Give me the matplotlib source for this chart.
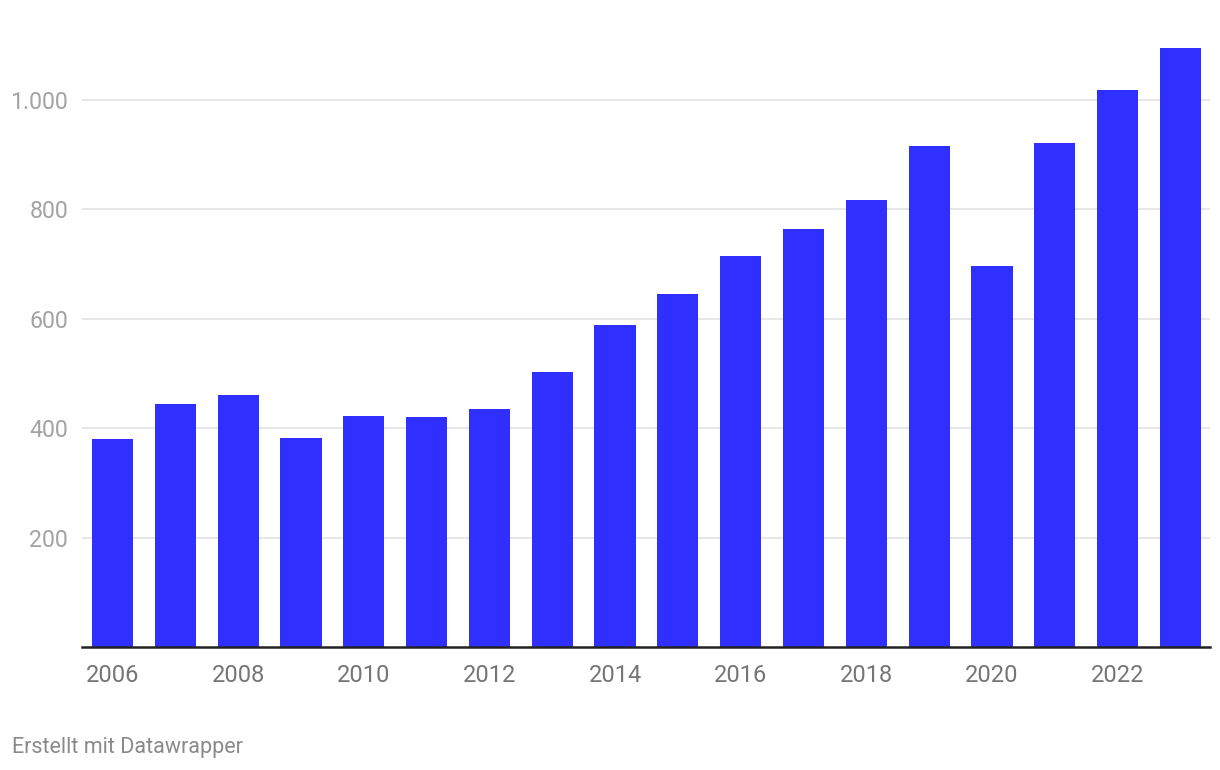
import matplotlib
matplotlib.use("Agg")
import matplotlib.pyplot as plt

years = list(range(2006, 2024))
values = [380, 444, 461, 382, 422, 420, 435, 503, 589, 645, 715, 764, 817, 916, 697, 921, 1018, 1095]
y_ticks = [200, 400, 600, 800, 1000]
y_labels = ["200", "400", "600", "800", "1.000"]
x_ticks = [2006, 2008, 2010, 2012, 2014, 2016, 2018, 2020, 2022]

plt.rcParams['font.family'] = ['Roboto', 'DejaVu Sans']

fig = plt.figure(figsize=(12.2, 7.7), dpi=100)
ax = fig.add_axes([82/1220, 123/770, (1210-82)/1220, (647-45)/770])

for y in y_ticks:
    ax.axhline(y, color="#e3e3e3", linewidth=1.2, zorder=0)

ax.bar(years, values, width=0.655, color="#2f2fff", zorder=2)

ax.set_xlim(2005.515, 2023.47)
ax.set_ylim(0, 1100)

ax.set_yticks(y_ticks)
ax.set_yticklabels(y_labels)
ax.set_xticks(x_ticks)
ax.set_xticklabels([str(x) for x in x_ticks])

ax.tick_params(axis="y", length=0, pad=10, labelsize=16.7, labelcolor="#a3a3a3")
ax.tick_params(axis="x", length=0, pad=12, labelsize=17, labelcolor="#757575")

for s in ["top", "right", "left"]:
    ax.spines[s].set_visible(False)
ax.spines["bottom"].set_color("#222222")
ax.spines["bottom"].set_linewidth(1.8)
ax.spines["bottom"].set_zorder(3)

fig.text(12/1220, 1 - 747/770, "Erstellt mit Datawrapper", fontsize=15.5,
         color="#8a8a8a", ha="left", va="center")

fig.savefig("out.png", dpi=100)
